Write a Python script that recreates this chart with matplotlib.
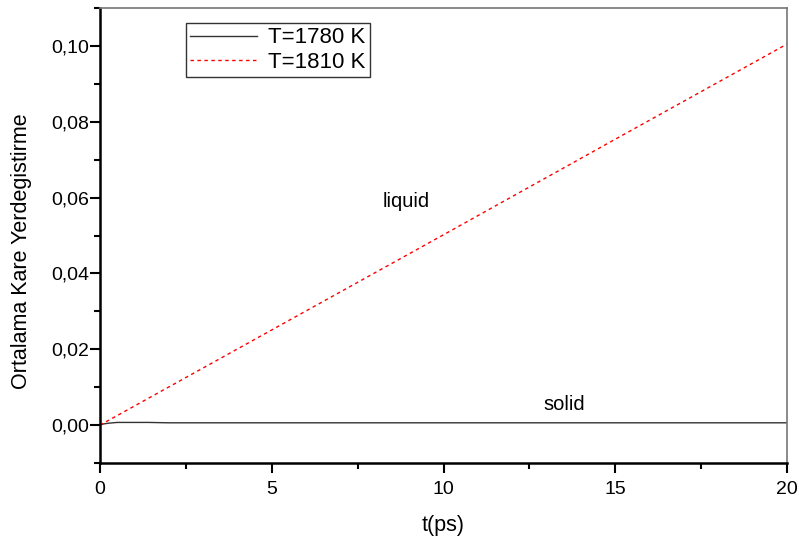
import numpy as np
import matplotlib
matplotlib.use("Agg")
import matplotlib.pyplot as plt
from matplotlib.ticker import MultipleLocator, FuncFormatter

plt.rcParams['font.family'] = ['Liberation Sans', 'DejaVu Sans']

# T=1780 K (solid) - levels off almost immediately
t_solid = [0, 0.1, 0.25, 0.5, 1.0, 1.4, 2.0, 5, 10, 15, 20]
msd_solid = [0, 0.0003, 0.0005, 0.0007, 0.0007, 0.0007, 0.0006, 0.0006, 0.0006, 0.0006, 0.0006]

# T=1810 K (liquid) - grows linearly
t_liquid = [0, 5, 10, 15, 20]
msd_liquid = [0, 0.0251, 0.0502, 0.0754, 0.1005]

fig = plt.figure(figsize=(7.99, 5.36), dpi=100)
ax = fig.add_axes([0.1252, 0.1362, 0.8598, 0.8488])

ax.plot(t_solid, msd_solid, color='#333333', lw=1.0, label='T=1780 K')
ax.plot(t_liquid, msd_liquid, color='red', lw=1.0, ls=(0, (2.5, 2.5)), label='T=1810 K')

ax.text(8.9, 0.0590, 'liquid', fontsize=14.5, ha='center', va='center')
ax.text(13.5, 0.0054, 'solid', fontsize=14.5, ha='center', va='center')

ax.set_xlim(0, 20)
ax.set_ylim(-0.01, 0.11)
ax.xaxis.set_major_locator(MultipleLocator(5))
ax.xaxis.set_minor_locator(MultipleLocator(2.5))
ax.yaxis.set_major_locator(MultipleLocator(0.02))
ax.yaxis.set_minor_locator(MultipleLocator(0.01))
ax.yaxis.set_major_formatter(FuncFormatter(lambda v, p: ('%.2f' % v).replace('.', ',').replace('-0,00', '0,00')))

ax.tick_params(which='major', direction='out', length=7, width=1.5, labelsize=14)
ax.tick_params(which='minor', direction='out', length=4, width=1.5)
ax.tick_params(axis='x', pad=6)
ax.tick_params(axis='y', pad=1)
for s in ['left', 'bottom']:
    ax.spines[s].set_linewidth(1.8)
for s in ['top', 'right']:
    ax.spines[s].set_linewidth(1.2)
    ax.spines[s].set_color('#777777')

ax.set_xlabel('t(ps)', fontsize=15.5, labelpad=12)
ax.set_ylabel('Ortalama Kare Yerdegistirme', fontsize=15.5)
ax.yaxis.set_label_coords(-0.099, 0.466)

leg = ax.legend(loc='upper left', bbox_to_anchor=(0.125, 0.967), fontsize=16,
                frameon=True, fancybox=False, edgecolor='black', handlelength=3.0,
                borderpad=0.2, labelspacing=0.15, handletextpad=0.5, borderaxespad=0)
leg.get_frame().set_linewidth(1.0)

fig.savefig('out.png', dpi=100)
